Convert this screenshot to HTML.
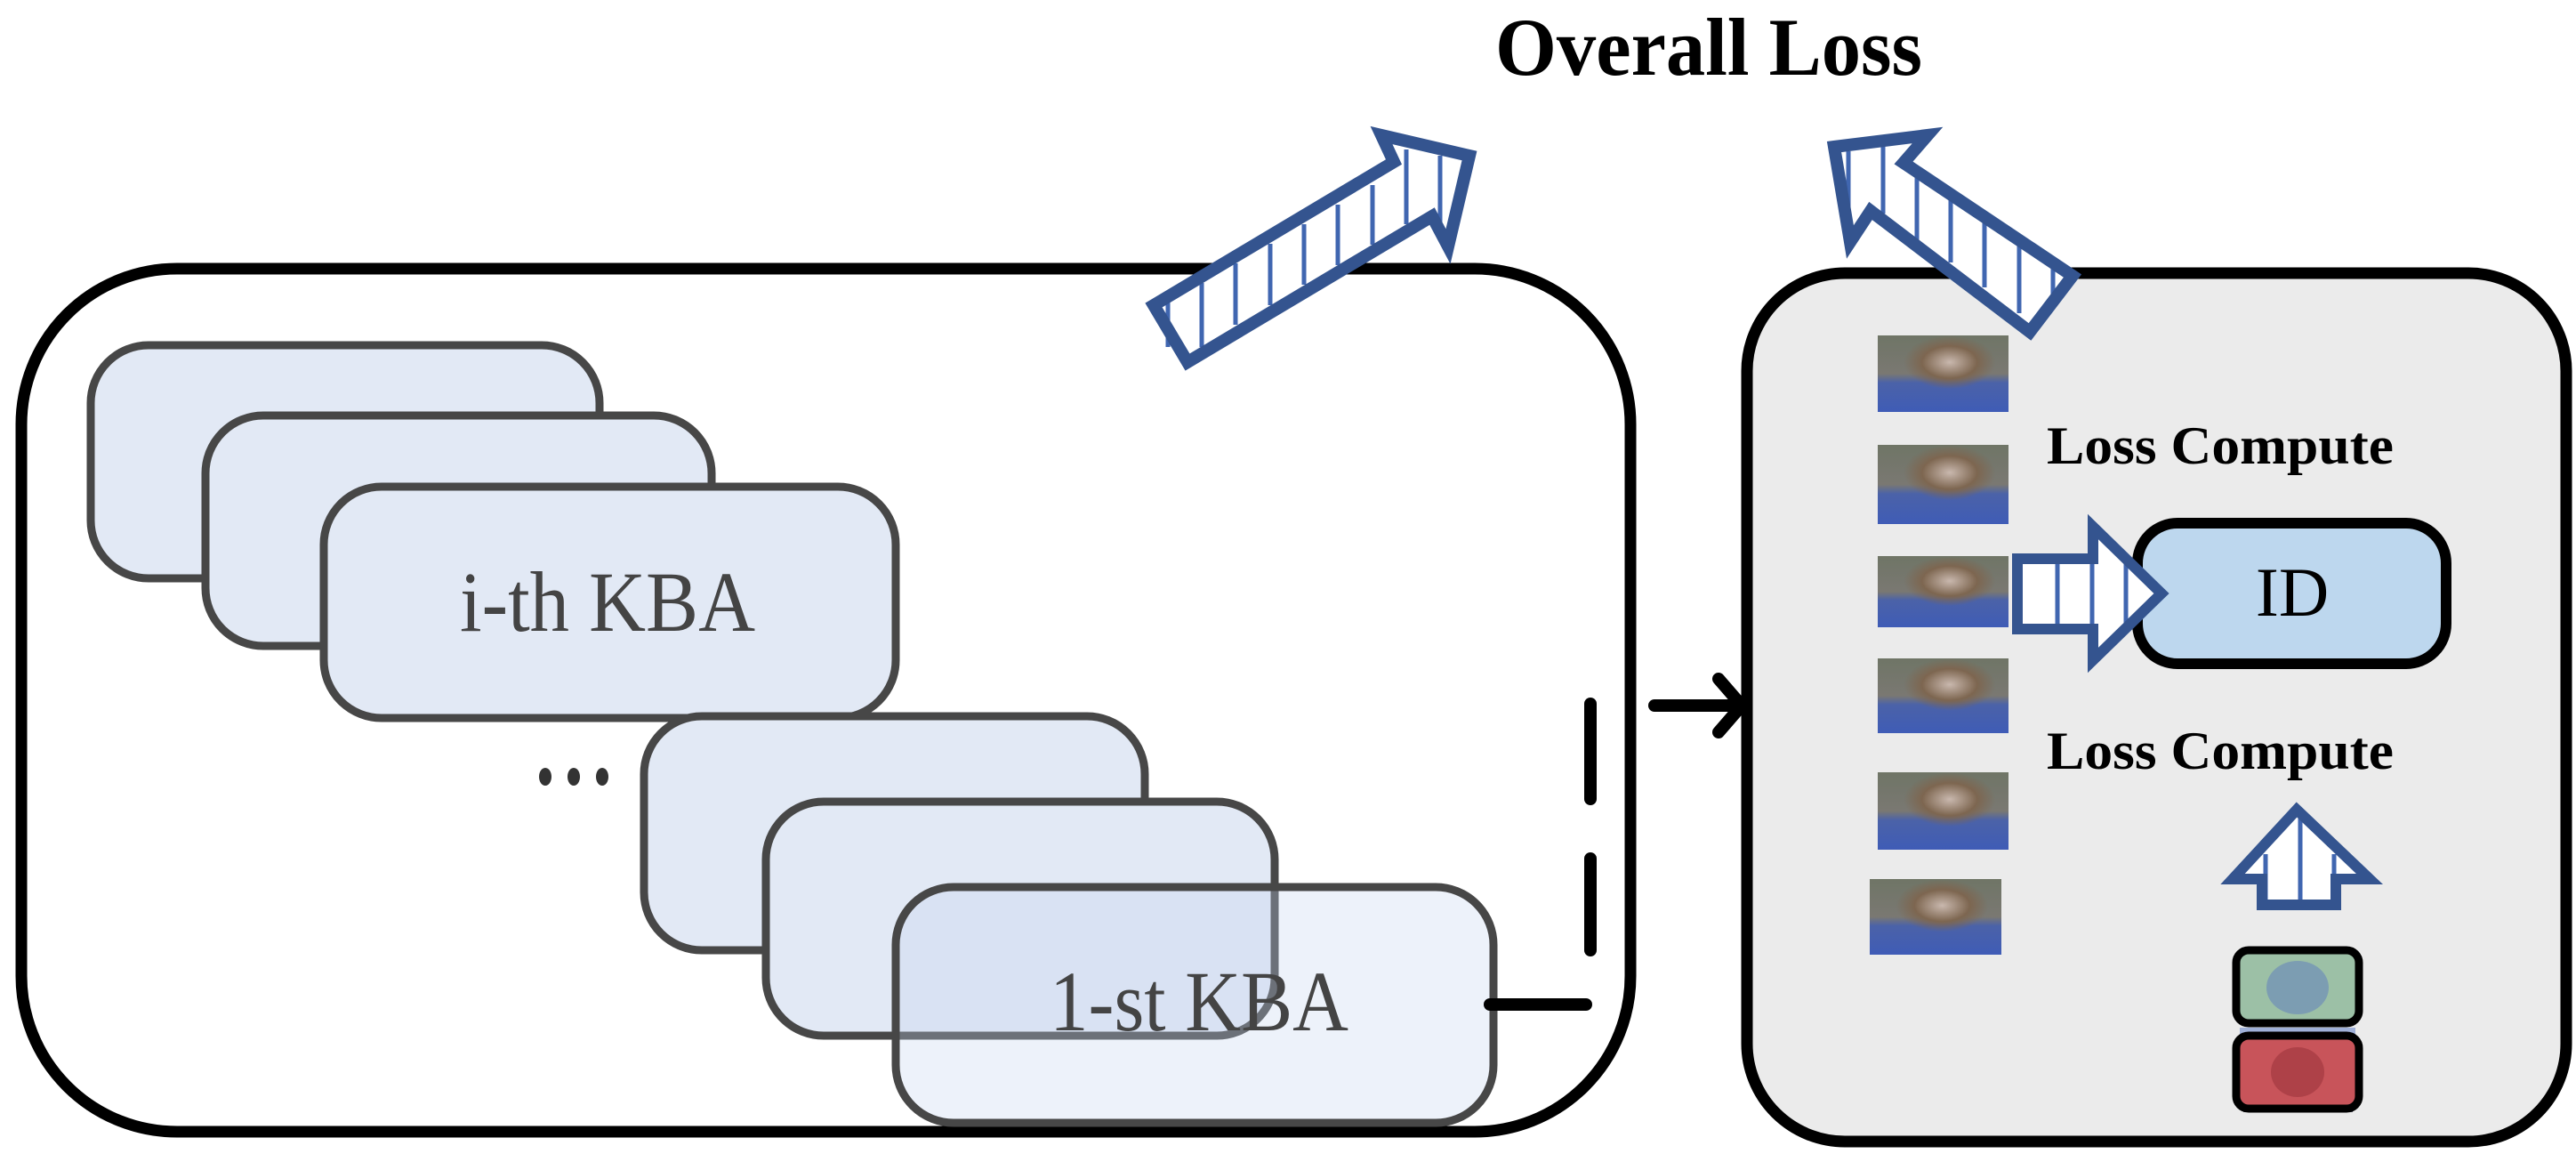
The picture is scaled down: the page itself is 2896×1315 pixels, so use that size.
<!DOCTYPE html>
<html><head><meta charset="utf-8"><style>
html,body{margin:0;padding:0;background:#fff}
svg{display:block}
</style></head><body>
<svg width="2896" height="1315" viewBox="0 0 2896 1315" xmlns="http://www.w3.org/2000/svg">
<defs>
<linearGradient id="pg" x1="0" y1="0" x2="0" y2="1">
<stop offset="0" stop-color="#6f7566"/><stop offset="0.5" stop-color="#7a7872"/><stop offset="0.62" stop-color="#4b62a8"/><stop offset="1" stop-color="#3f5cb6"/>
</linearGradient>
<radialGradient id="hd" cx="0.55" cy="0.35" r="0.35">
<stop offset="0" stop-color="#c9b8ae"/><stop offset="0.6" stop-color="#7d6650"/><stop offset="1" stop-color="#7d6650" stop-opacity="0"/>
</radialGradient>
</defs>

<!-- Title -->
<text x="1921" y="84" text-anchor="middle" font-family="Liberation Serif, serif" font-weight="bold" font-size="92" fill="#000" textLength="480" lengthAdjust="spacingAndGlyphs">Overall Loss</text>

<!-- Left panel -->
<rect x="24" y="302" width="1809" height="970" rx="175" ry="175" fill="#fff" stroke="#000" stroke-width="13"/>

<!-- stacked boxes -->
<g stroke="#474747" stroke-width="9">
<rect x="102" y="388" width="572" height="262" rx="65" fill="#e2e9f5"/>
<rect x="231" y="467" width="569" height="259" rx="65" fill="#e2e9f5"/>
<rect x="364" y="547" width="643" height="260" rx="65" fill="#e2e9f5"/>
<rect x="724" y="805" width="563" height="263" rx="65" fill="#e2e9f5"/>
<rect x="861" y="901" width="572" height="263" rx="65" fill="#e2e9f5"/>
<rect x="1007" y="997" width="672" height="265" rx="65" fill="rgb(197,213,238)" fill-opacity="0.3"/>
</g>
<text x="683" y="709" text-anchor="middle" font-family="Liberation Serif, serif" font-size="96" fill="#444" textLength="332" lengthAdjust="spacingAndGlyphs">i-th KBA</text>
<text x="1348" y="1158" text-anchor="middle" font-family="Liberation Serif, serif" font-size="96" fill="#444" textLength="336" lengthAdjust="spacingAndGlyphs">1-st KBA</text>
<g fill="#333"><ellipse cx="613" cy="873" rx="7" ry="10"/><ellipse cx="645" cy="873" rx="7" ry="10"/><ellipse cx="677" cy="873" rx="7" ry="10"/></g>

<!-- connectors -->
<g stroke="#000" stroke-width="14" stroke-linecap="round" fill="none">
<line x1="1675" y1="1129" x2="1783" y2="1129"/>
<line x1="1788" y1="791" x2="1788" y2="898"/>
<line x1="1788" y1="965" x2="1788" y2="1068"/>
<line x1="1860" y1="793" x2="1955" y2="793"/>
<polyline points="1932,763 1958,793 1932,823"/>
</g>

<!-- Right panel -->
<rect x="1964" y="307" width="921" height="976" rx="110" fill="#ebebeb" stroke="#000" stroke-width="13"/>

<!-- Big striped arrows -->
<g>
<polygon points="1297,343 1335,407 1610,243 1628,277 1652,175 1553,152 1567,182" fill="#fff"/>
<g stroke="#4066b0" stroke-width="5">
<line x1="1313" y1="340" x2="1313" y2="390"/><line x1="1351" y1="318" x2="1351" y2="390"/><line x1="1389" y1="296" x2="1389" y2="365"/><line x1="1428" y1="274" x2="1428" y2="343"/><line x1="1466" y1="252" x2="1466" y2="320"/><line x1="1504" y1="230" x2="1504" y2="298"/><line x1="1543" y1="208" x2="1543" y2="275"/><line x1="1581" y1="168" x2="1581" y2="252"/><line x1="1619" y1="175" x2="1619" y2="255"/>
</g>
<polygon points="1297,343 1335,407 1610,243 1628,277 1652,175 1553,152 1567,182" fill="none" stroke="#34548f" stroke-width="14" stroke-linejoin="miter"/>
</g>
<g>
<polygon points="2062,165 2167,152 2140,183 2330,310 2282,373 2103,237 2080,272" fill="#fff"/>
<g stroke="#4066b0" stroke-width="5">
<line x1="2078" y1="170" x2="2078" y2="262"/><line x1="2117" y1="165" x2="2117" y2="240"/><line x1="2155" y1="190" x2="2155" y2="270"/><line x1="2193" y1="218" x2="2193" y2="295"/><line x1="2231" y1="245" x2="2231" y2="323"/><line x1="2270" y1="272" x2="2270" y2="352"/><line x1="2308" y1="300" x2="2308" y2="335"/>
</g>
<polygon points="2062,165 2167,152 2140,183 2330,310 2282,373 2103,237 2080,272" fill="none" stroke="#34548f" stroke-width="14"/>
</g>

<!-- thumbnails -->
<g>
<rect x="2111" y="377" width="147" height="86" fill="url(#pg)"/><rect x="2111" y="377" width="147" height="86" fill="url(#hd)"/>
<rect x="2111" y="500" width="147" height="89" fill="url(#pg)"/><rect x="2111" y="500" width="147" height="89" fill="url(#hd)"/>
<rect x="2111" y="625" width="147" height="80" fill="url(#pg)"/><rect x="2111" y="625" width="147" height="80" fill="url(#hd)"/>
<rect x="2111" y="740" width="147" height="84" fill="url(#pg)"/><rect x="2111" y="740" width="147" height="84" fill="url(#hd)"/>
<rect x="2111" y="868" width="147" height="87" fill="url(#pg)"/><rect x="2111" y="868" width="147" height="87" fill="url(#hd)"/>
<rect x="2102" y="988" width="148" height="85" fill="url(#pg)"/><rect x="2102" y="988" width="148" height="85" fill="url(#hd)"/>
</g>

<text x="2301" y="521" font-family="Liberation Serif, serif" font-weight="bold" font-size="60" fill="#000" textLength="390" lengthAdjust="spacingAndGlyphs">Loss Compute</text>
<text x="2301" y="864" font-family="Liberation Serif, serif" font-weight="bold" font-size="60" fill="#000" textLength="390" lengthAdjust="spacingAndGlyphs">Loss Compute</text>

<!-- ID box -->
<rect x="2403" y="588" width="347" height="158" rx="45" fill="#bdd7ee" stroke="#000" stroke-width="12"/>
<text x="2577" y="692" text-anchor="middle" font-family="Liberation Serif, serif" font-size="78" fill="#000">ID</text>

<!-- right arrow -->
<polygon points="2268,628 2353,628 2353,592 2430,667 2353,742 2353,707 2268,707" fill="#fff"/>
<g stroke="#4066b0" stroke-width="5"><line x1="2313" y1="632" x2="2313" y2="703"/><line x1="2352" y1="600" x2="2352" y2="735"/><line x1="2390" y1="630" x2="2390" y2="705"/></g>
<polygon points="2268,628 2353,628 2353,592 2430,667 2353,742 2353,707 2268,707" fill="none" stroke="#34548f" stroke-width="12"/>

<!-- up arrow -->
<polygon points="2582,910 2664,988 2626,988 2626,1017 2543,1017 2543,988 2510,988" fill="#fff"/>
<g stroke="#4066b0" stroke-width="5"><line x1="2547" y1="960" x2="2547" y2="1012"/><line x1="2586" y1="920" x2="2586" y2="1012"/><line x1="2624" y1="960" x2="2624" y2="985"/></g>
<polygon points="2582,910 2664,988 2626,988 2626,1017 2543,1017 2543,988 2510,988" fill="none" stroke="#34548f" stroke-width="12"/>

<!-- framed images -->
<rect x="2522" y="1240" width="123" height="10" fill="#55586a"/>
<rect x="2518" y="1155" width="130" height="12" fill="#9fb0d8"/>
<rect x="2514" y="1068" width="138" height="82" rx="14" fill="#9cc0a6" stroke="#000" stroke-width="9"/>
<ellipse cx="2583" cy="1110" rx="35" ry="30" fill="#6f8fb8" opacity="0.7"/>
<rect x="2514" y="1164" width="138" height="82" rx="14" fill="#c8545a" stroke="#000" stroke-width="9"/>
<ellipse cx="2583" cy="1205" rx="30" ry="28" fill="#a83c44" opacity="0.8"/>
</svg>
</body></html>
